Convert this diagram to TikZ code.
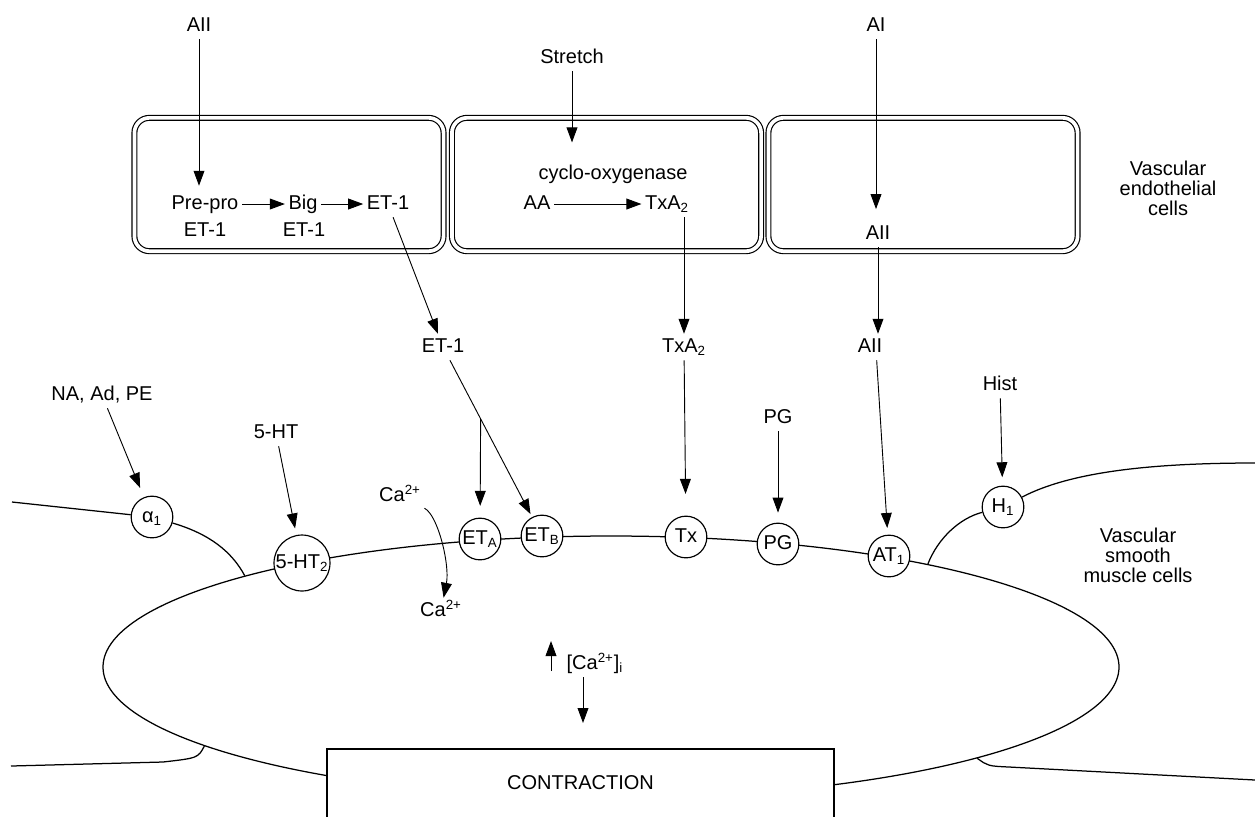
\documentclass[tikz,border=0pt]{standalone}
\usepackage{fontspec}
\setmainfont{Liberation Sans}
\usetikzlibrary{arrows.meta,shapes.geometric,calc}
\begin{document}
\begin{tikzpicture}[x=0.6pt,y=-0.6pt,
  font=\fontsize{12pt}{12pt}\selectfont,
  every node/.style={inner sep=2pt, text height=9pt, text depth=2.5pt},
  multi/.style={align=center, text height={}, text depth={}},
  arr/.style={-{Triangle[length=9pt,width=6.5pt]}, line width=0.55pt},
  mem/.style={line width=0.75pt},
  cellbox/.style={draw, double, double distance=2.2pt, line width=0.7pt, rounded corners=9pt, minimum width=185.5pt, minimum height=80pt},
  rec/.style={draw, circle, fill=white, line width=0.7pt, inner sep=0pt, minimum size=25pt}]
\useasboundingbox (0,0) rectangle (1255,816);
\node[cellbox] (ec1) at (289,184.5) {};
\node[cellbox] (ec2) at (606.5,184.5) {};
\node[cellbox] (ec3) at (923,184.5) {};
\node (aiit) at (199,26) {AII};
\node (prepro) at (205,204) {Pre-pro};
\node (preet) at (205,231) {ET-1};
\node (big) at (303,204) {Big};
\node (biget) at (304,231) {ET-1};
\node (et1) at (388,204) {ET-1};
\node (stretch) at (572,58) {Stretch};
\node (cox) at (613,174) {cyclo-oxygenase};
\node (aa) at (537,204) {AA};
\node (txa2) at (667,204) {TxA\textsubscript{2}};
\node (ait) at (876,26) {AI};
\node (aiib) at (878,234) {AII};
\node[multi] (vec) at (1168,188) {Vascular\\endothelial\\cells};
\draw[arr, shorten >=3pt] (aiit) -- (aiit |- prepro.north);
\draw[arr] (prepro) -- (big);
\draw[arr] (big) -- (et1);
\draw[arr, shorten >=11pt] (stretch) -- (stretch |- cox.north);
\draw[arr] (aa) -- (txa2);
\draw[arr, shorten >=7pt] (ait) -- (ait |- aiib.north);
\node (et1m) at (443,347) {ET-1};
\node (txa2m) at (684,347) {TxA\textsubscript{2}};
\node (aiim) at (870,347) {AII};
\draw[arr] (et1) -- (et1m);
\draw[arr] (txa2.south -| txa2m) -- (txa2m);
\draw[arr] (aiib) -- (aiib |- aiim.north);
\node[ellipse, draw, mem, inner sep=0pt, minimum width=609.6pt, minimum height=157.2pt] (smc) at (611,667) {};
\node[draw, mem, fill=white, minimum width=304.2pt, minimum height=42.6pt] (contr) at (580.5,784.5) {CONTRACTION};
\node[rec] (a1) at (152,517) {α\textsubscript{1}};
\node[rec, minimum size=32pt] (ht2) at (302,563) {5-HT\textsubscript{2}};
\node[rec] (eta) at (480,539) {ET\textsubscript{A}};
\node[rec] (etb) at (542,536) {ET\textsubscript{B}};
\node[rec] (tx) at (686,537) {Tx};
\node[rec] (pg) at (778,544) {PG};
\node[rec] (at1) at (889,556) {AT\textsubscript{1}};
\node[rec] (h1) at (1003,507) {H\textsubscript{1}};
\draw[mem] (12,502) -- (a1);
\draw[mem] (a1) .. controls (210,534) and (232,552) .. (smc.166);
\draw[mem] (smc.18) .. controls (938,538) and (960,518) .. (h1);
\draw[mem] (h1) .. controls (1070,472) and (1150,463) .. (1255,463);
\draw[mem] (smc.191) .. controls (198,758) .. (163,762) -- (11,766);
\draw[mem] (smc.-14) .. controls (988,766) .. (1009,767) -- (1255,780);
\node (nap) at (102,395) {NA, Ad, PE};
\node (ht) at (276,433) {5-HT};
\node (catop) at (400,496) {Ca\textsuperscript{2+}};
\node (cabot) at (441,611) {Ca\textsuperscript{2+}};
\node (pgl) at (778,418) {PG};
\node (hist) at (1000,385) {Hist};
\node[multi] (vsm) at (1138,555) {Vascular\\smooth\\muscle cells};
\draw[arr, shorten >=6pt] (nap) -- (a1);
\draw[arr, shorten >=4pt] (ht) -- (ht2);
\draw[arr] (catop) .. controls (438,515) and (450,565) .. (cabot);
\coordinate (br) at ($(et1m)!0.38!(etb)$);
\draw[arr, shorten >=2pt] (et1m) -- (etb);
\draw[arr, shorten >=7pt] (br) -- (eta);
\draw[arr, shorten >=13pt] (txa2m) -- (tx);
\draw[arr, shorten >=6pt] (pgl) -- (pg);
\draw[arr, shorten >=4pt] ([xshift=4pt]aiim.south) -- (at1);
\draw[arr, shorten >=5pt] (hist) -- (h1);
\node[anchor=west] (cai) at (563,664) {[Ca\textsuperscript{2+}]\textsubscript{i}};
\coordinate (upb) at (551,671);
\coordinate (upt) at (551,641);
\coordinate (dn) at (583,723);
\draw[arr] (upb) -- (upt);
\draw[arr] (cai.south -| dn) -- (dn);
\end{tikzpicture}
\end{document}
